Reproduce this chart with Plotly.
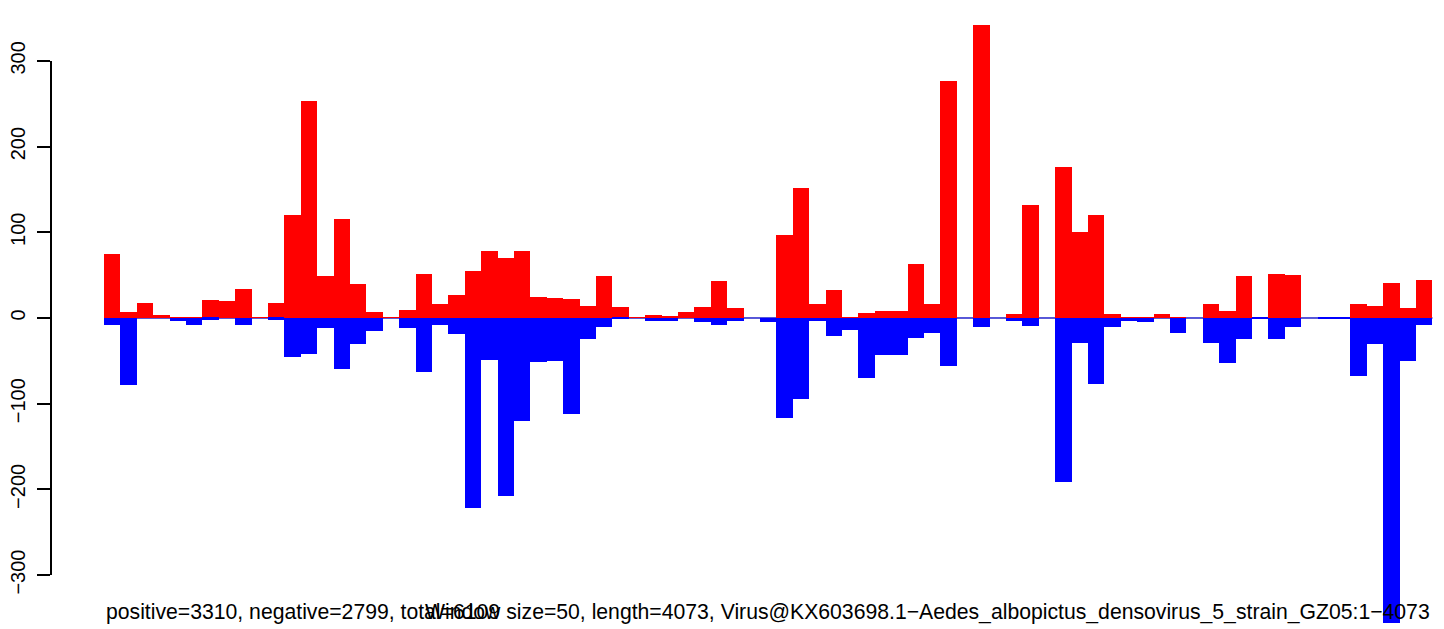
import plotly.graph_objects as go

# window index (window size = 50 nt, 81 windows)
windows = list(range(81))

positive = [75, 7, 17, 3, 1, 1, 21, 20, 34, 1,
            17, 120, 253, 49, 115, 40, 7, 1, 9, 51,
            16, 27, 55, 78, 70, 78, 24, 23, 22, 14,
            49, 13, 1, 3, 2, 7, 13, 43, 12, 0,
            0, 97, 152, 16, 33, 1, 6, 8, 8, 63,
            16, 277, 0, 342, 0, 5, 132, 0, 176, 100,
            120, 5, 1, 1, 5, 1, 0, 16, 8, 49,
            1, 51, 50, 0, 0, 0, 16, 14, 41, 12, 44]

negative = [-8, -78, 0, 0, -3, -8, -2, 0, -8, 0,
            -2, -46, -42, -12, -60, -30, -15, 0, -12, -63,
            -8, -19, -222, -49, -208, -120, -51, -50, -112, -25,
            -11, -1, 0, -4, -4, 0, -5, -8, -3, 0,
            -5, -117, -94, -3, -21, -14, -70, -43, -43, -23,
            -17, -56, 0, -10, 0, -4, -9, 0, -191, -29,
            -77, -10, -3, -5, 0, -17, 0, -29, -53, -25,
            -1, -24, -11, 0, -1, -1, -68, -30, -356, -50, -8]

y_ticks = [-300, -200, -100, 0, 100, 200, 300]
y_tick_text = ["\u2212300", "\u2212200", "\u2212100", "0", "100", "200", "300"]

left_note = "positive=3310, negative=2799, total=6109"
right_note = ("Window size=50, length=4073, "
              "Virus@KX603698.1\u2212Aedes_albopictus_densovirus_5_strain_GZ05:1\u22124073")

FONT = "Liberation Sans, Arial, Helvetica, sans-serif"

fig = go.Figure()
fig.add_trace(go.Bar(x=windows, y=positive, width=1, marker_color="#ff0000",
                     marker_line_width=0, name="positive"))
fig.add_trace(go.Bar(x=windows, y=negative, width=1, marker_color="#0000ff",
                     marker_line_width=0, name="negative"))

# baseline
fig.add_shape(type="line", xref="x", yref="y", x0=-0.5, x1=80.5, y0=0, y1=0,
              line=dict(color="#999999", width=1.5), layer="below")
fig.add_shape(type="line", xref="x", yref="y", x0=-0.5, x1=80.5, y0=0, y1=0,
              line=dict(color="#0000ff", width=1), layer="below")
# R-style axis line only between extreme ticks
fig.add_shape(type="line", xref="paper", yref="y", x0=0, x1=0,
              y0=y_ticks[0], y1=y_ticks[-1],
              line=dict(color="black", width=2))

fig.add_annotation(text=left_note, xref="x", yref="paper", x=-0.5, y=0.028,
                   xanchor="left", yanchor="middle", showarrow=False,
                   font=dict(family=FONT, size=21.2, color="black"))
fig.add_annotation(text=right_note, xref="x", yref="paper", x=80.5, y=0.028,
                   xanchor="right", yanchor="middle", showarrow=False,
                   font=dict(family=FONT, size=21.2, color="black"))

fig.update_layout(
    width=1436, height=621,
    margin=dict(l=43, r=0, t=0, b=0),
    paper_bgcolor="white", plot_bgcolor="white",
    barmode="overlay", bargap=0, showlegend=False,
    font=dict(family=FONT, color="black"),
    xaxis=dict(range=[-3.732, 81.207], visible=False, showgrid=False,
               zeroline=False),
    yaxis=dict(range=[-362.9, 361.7], tickvals=y_ticks, ticktext=y_tick_text,
               tickangle=-90, ticks="outside", ticklen=13, tickwidth=2,
               tickcolor="black", showline=False, showgrid=False,
               zeroline=False, tickfont=dict(family=FONT, size=20, color="black"),
               ticklabelstandoff=4),
)

fig.write_html("out.html")
